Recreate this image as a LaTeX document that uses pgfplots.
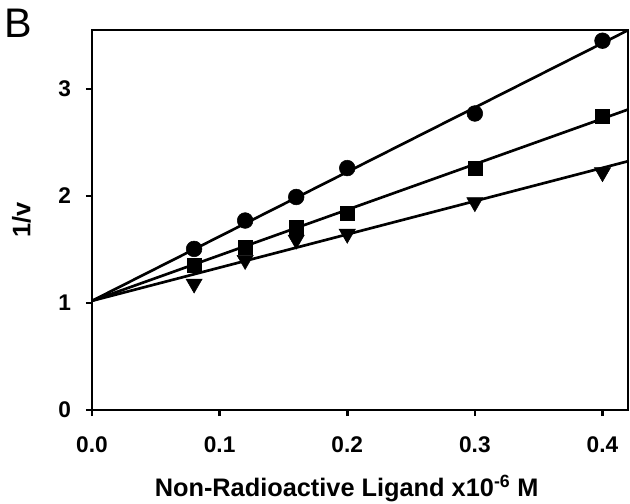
\documentclass[border=0pt]{standalone}
\usepackage{fontspec}
\setmainfont{Liberation Sans}
\usepackage{pgfplots}
\pgfplotsset{compat=1.18}
\begin{document}
\begin{tikzpicture}[x=1pt,y=1pt]
\useasboundingbox (-69,-69.75) rectangle (403.5,307.5);
\begin{axis}[
  at={(0,0)}, anchor=south west,
  scale only axis, width=402pt, height=285pt,
  xmin=0, xmax=0.42, ymin=0, ymax=3.55,
  axis line style={line width=2.2pt},
  every tick/.style={line width=2pt, black},
  tick align=outside, xtick pos=left, ytick pos=left,
  major tick length=4.5pt,
  xtick={0,0.1,0.2,0.3,0.4}, ytick={0,1,2,3},
  /pgf/number format/assume math mode=true,
  ticklabel style={font=\fontsize{17}{19}\selectfont\bfseries, inner sep=0pt},
  xticklabel style={anchor=north, yshift=-15pt, /pgf/number format/fixed, /pgf/number format/fixed zerofill, /pgf/number format/precision=1},
  yticklabel style={anchor=east, xshift=-11pt},
  every axis x label/.style={at={(axis description cs:0.5,0)}, anchor=base, xshift=-10pt, yshift=-64.5pt},
  every axis y label/.style={at={(axis description cs:0,0.5)}, xshift=-53pt, rotate=90, anchor=center},
  label style={font=\fontsize{19}{21}\selectfont\bfseries},
  xlabel={Non-Radioactive Ligand x10\textsuperscript{-6} M},
  ylabel={1/v},
  clip=false,
]
\addplot[black, line width=2pt] coordinates {(0,1.02) (0.42,3.548)};
\addplot[black, line width=2pt] coordinates {(0,1.02) (0.42,2.807)};
\addplot[black, line width=2pt] coordinates {(0,1.02) (0.42,2.324)};
\addplot[only marks, mark=*, mark size=5.9pt, black] coordinates {
 (0.08,1.505) (0.12,1.77) (0.16,1.99) (0.2,2.26) (0.3,2.77) (0.4,3.45)};
\addplot[only marks, mark=square*, mark size=5.2pt, black] coordinates {
 (0.08,1.35) (0.12,1.52) (0.16,1.71) (0.2,1.84) (0.3,2.26) (0.4,2.745)};
\addplot[only marks, mark=triangle*, mark size=7pt, black, mark options={rotate=180}] coordinates {
 (0.08,1.18) (0.12,1.40) (0.16,1.59) (0.2,1.645) (0.3,1.94) (0.4,2.22)};
\end{axis}
\node[anchor=north west, inner sep=0pt, font=\fontsize{31}{34}\selectfont] at (-66,301) {B};
\end{tikzpicture}
\end{document}
